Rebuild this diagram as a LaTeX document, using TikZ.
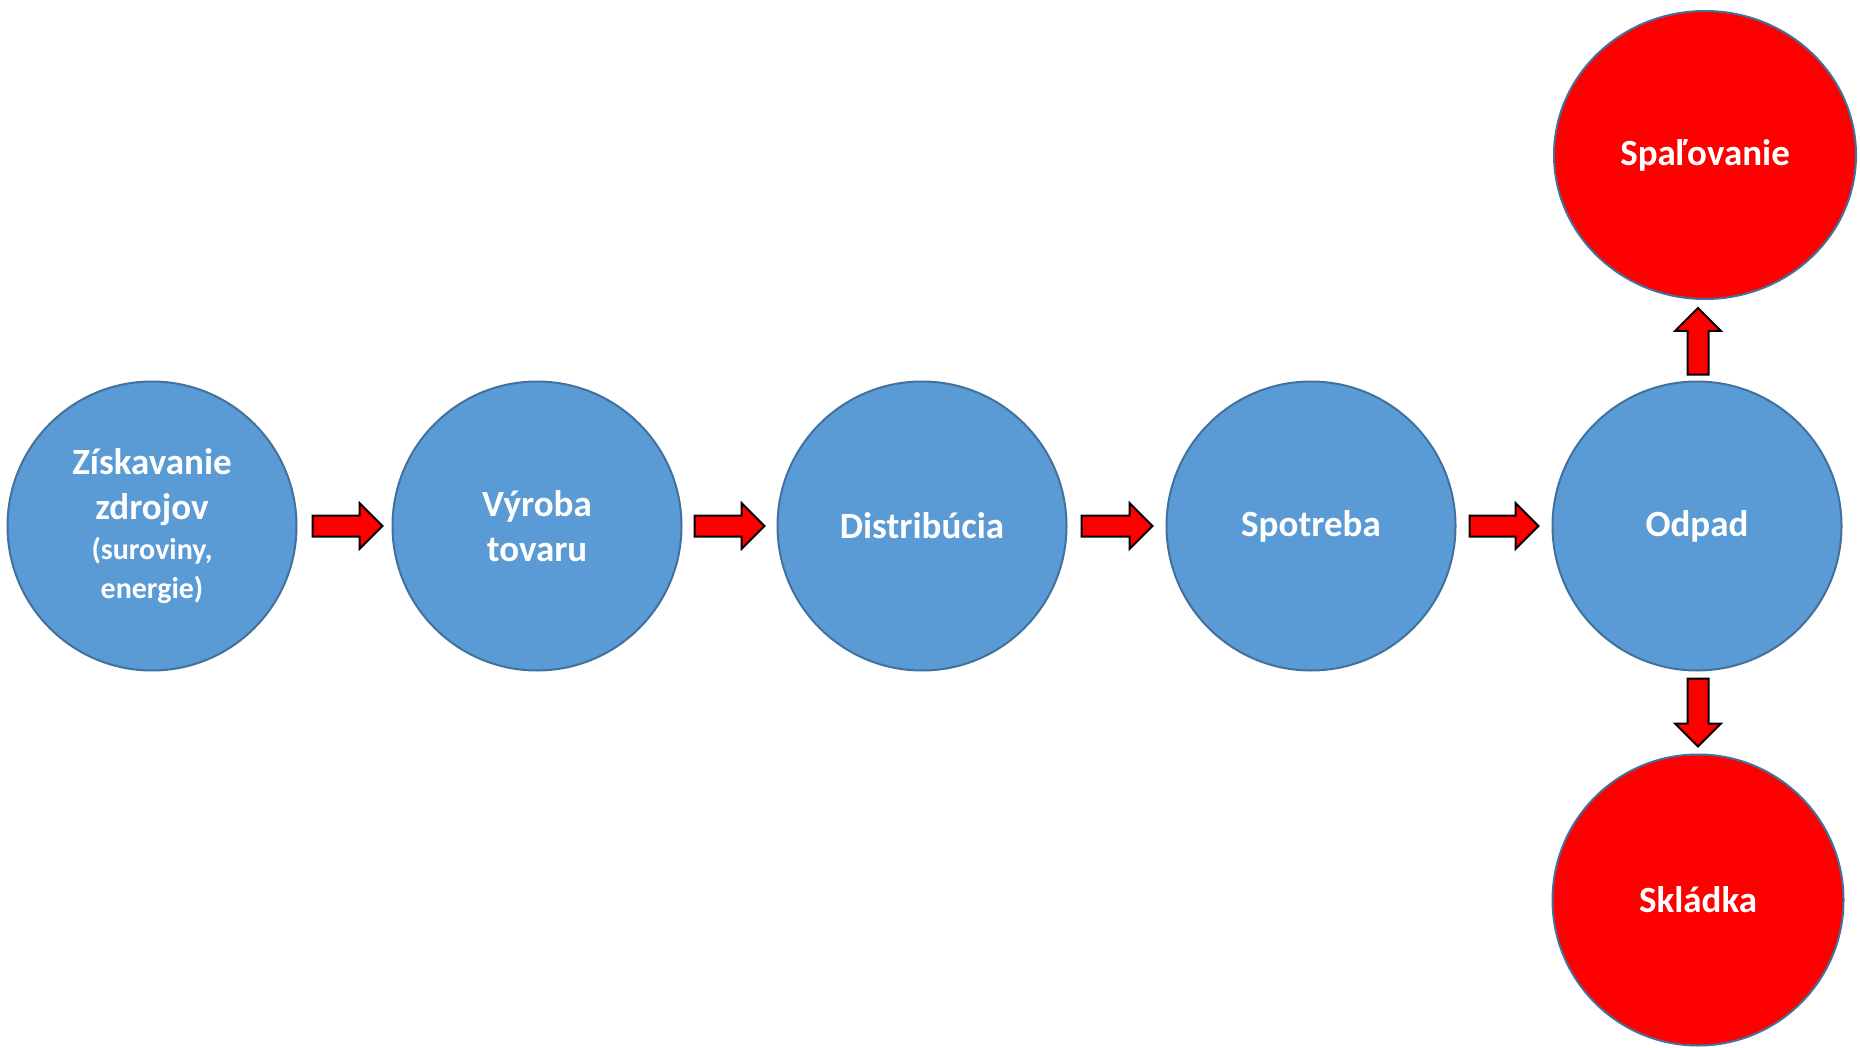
\documentclass[tikz,border=0pt]{standalone}
\usepackage{fontspec}
\setmainfont{Carlito}
\usetikzlibrary{calc,shapes.geometric}
\definecolor{cblue}{HTML}{5B9BD5}
\definecolor{cedge}{HTML}{41719C}
\begin{document}
\begin{tikzpicture}[x=1pt,y=-1pt,
 stage/.style={circle, draw=cedge, line width=2pt, fill=cblue, minimum size=289pt, inner sep=0pt, text=white, font=\bfseries\fontsize{37}{45}\selectfont, align=center},
 endstage/.style={stage, fill=red},
 blockarr/.style={draw=black, line width=2pt, fill=red, line join=miter,
   to path={let \p1=(\tikztostart), \p2=(\tikztotarget),
     \n1={atan2(\y2-\y1,\x2-\x1)}, \n2={veclen(\x2-\x1,\y2-\y1)} in
     [shift={(\p1)}, rotate=\n1]
     (0,-10.5) -- ({\n2-23},-10.5) -- ({\n2-23},-23) -- ({\n2},0) -- ({\n2-23},23) -- ({\n2-23},10.5) -- (0,10.5) -- cycle}}
]
\fill[white] (0,0) rectangle (1860,1048);
\useasboundingbox (0,0) rectangle (1860,1048);

\node[stage] (z) at (152,526) {Získavanie\\zdrojov\\[-5pt]{\fontsize{30}{36}\selectfont (suroviny,}\\[-6pt]{\fontsize{30}{36}\selectfont energie)}};
\node[stage] (v) at (537,526) {Výroba\\tovaru};
\node[stage] (d) at (922,526) {Distribúcia};
\node[stage] (p) at (1311,526) {Spotreba};
\node[stage] (o) at (1697,526) {Odpad};
\node[endstage, ellipse, minimum width=302pt, minimum height=288pt] (s) at (1705,155) {Spaľovanie};
\node[endstage, minimum size=291pt] (k) at (1698,900) {Skládka};

\draw[blockarr] ($(z.east)+(15,0)$) to ($(v.west)+(-9,0)$);
\draw[blockarr] ($(v.east)+(12,0)$) to ($(d.west)+(-12,0)$);
\draw[blockarr] ($(d.east)+(14,0)$) to ($(p.west)+(-13,0)$);
\draw[blockarr] ($(p.east)+(13,0)$) to ($(o.west)+(-13,0)$);
\draw[blockarr] ($(o.north)+(1,-6)$) to ($(o.north |- s.south)+(1,8)$);
\draw[blockarr] ($(o.south)+(1,7)$) to ($(o.south |- k.north)+(1,-7)$);
\end{tikzpicture}
\end{document}
